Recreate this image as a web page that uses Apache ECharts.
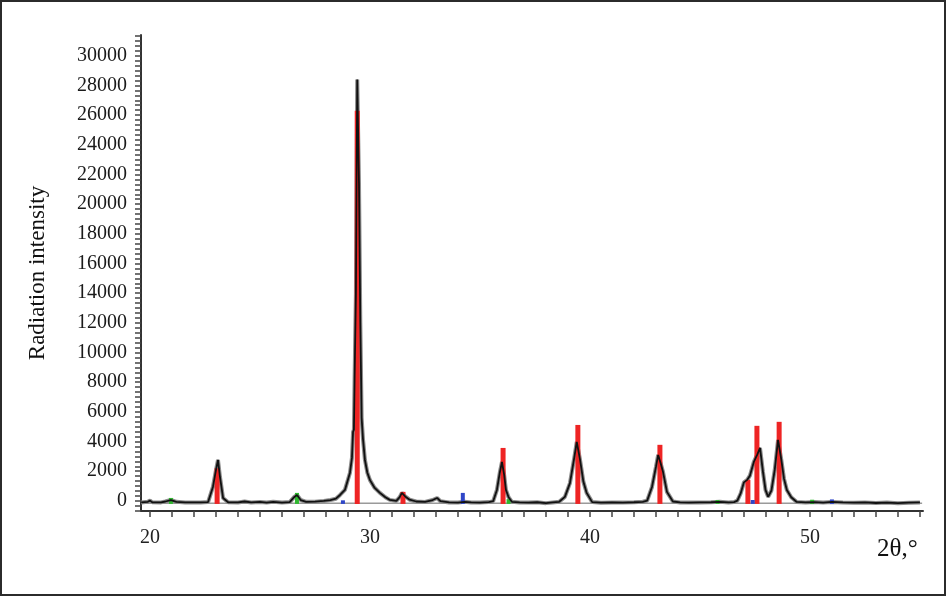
<!DOCTYPE html>
<html>
<head>
<meta charset="utf-8">
<script src="https://cdn.jsdelivr.net/npm/echarts@6/dist/echarts.min.js"></script>
<style>
  html, body { margin: 0; padding: 0; background: #fff; }
  #chart { position: absolute; left: 0; top: 0; width: 946px; height: 596px; }
  #frame { position: absolute; left: 0; top: 0; width: 946px; height: 596px; box-sizing: border-box; border: 2px solid #2b2b2b; pointer-events: none; }
</style>
</head>
<body>
<div id="chart"></div>
<div id="frame"></div>
<script>
const measured = [
  [19.6, -100], [19.9, -60], [20.0, 20], [20.1, -90], [20.5, -100], [20.7, -40], [20.95, 60], [21.2, -60],
  [21.6, -100], [22.3, -100], [22.64, -80], [22.86, 940], [23.0, 2090], [23.09, 2760], [23.18, 1620],
  [23.32, 200], [23.55, -90], [24.0, -100], [24.3, -40], [24.6, -100], [25.0, -70], [25.3, -110],
  [25.6, -60], [26.0, -110], [26.35, -80], [26.55, 250], [26.68, 400], [26.85, 60], [27.1, -60],
  [27.5, -50], [27.9, 0], [28.2, 60], [28.45, 150], [28.64, 400], [28.86, 740], [29.09, 1900],
  [29.18, 2900], [29.23, 4650], [29.27, 4800], [29.3, 8200], [29.36, 14000], [29.42, 28400],
  [29.5, 21400], [29.56, 12000], [29.62, 5600], [29.68, 4200], [29.77, 2760], [29.88, 1900],
  [30.0, 1400], [30.2, 900], [30.45, 540], [30.7, 250], [30.9, 70], [31.2, 0], [31.35, 250],
  [31.45, 540], [31.6, 300], [31.8, 80], [32.1, -40], [32.5, -70], [32.85, 60], [33.05, 200],
  [33.2, -20], [33.6, -100], [34.0, -110], [34.3, -60], [34.6, -100], [35.0, -110], [35.4, -80],
  [35.6, -20], [35.77, 740], [35.9, 1900], [36.0, 2630], [36.1, 1750], [36.18, 740], [36.3, 250],
  [36.45, -60], [36.8, -100], [37.2, -110], [37.6, -90], [38.0, -150], [38.3, -100], [38.6, -60],
  [38.86, 270], [39.09, 1200], [39.27, 2760], [39.4, 3980], [39.55, 2760], [39.7, 1300],
  [39.85, 540], [40.1, -80], [40.5, -120], [41.0, -100], [41.5, -110], [42.0, -90], [42.4, -60],
  [42.6, 20], [42.82, 940], [43.0, 2290], [43.1, 3100], [43.2, 2600], [43.32, 1960], [43.5, 610],
  [43.77, -40], [44.1, -100], [44.5, -110], [45.0, -100], [45.5, -90], [45.9, -60], [46.3, -100],
  [46.55, -80], [46.7, 20], [46.85, 500], [47.0, 1250], [47.15, 1420], [47.27, 1700], [47.45, 2630],
  [47.6, 3100], [47.73, 3570], [47.86, 2000], [47.98, 740], [48.1, 270], [48.25, 700], [48.4, 2090],
  [48.55, 4110], [48.7, 2760], [48.82, 1500], [48.95, 740], [49.15, 250], [49.4, -70], [49.8, -100],
  [50.2, -80], [50.6, -110], [51.0, -70], [51.5, -100], [52.0, -120], [52.5, -100], [53.0, -140],
  [53.5, -110], [54.0, -150], [54.5, -120], [55.0, -100]
];

// background line under the pattern
const background = [[19.6, -160], [55.1, -160]];

// reference sticks (2θ, intensity)
const redSticks = [
  [23.05, 2200], [29.42, 26300], [31.5, 610], [36.05, 3570], [39.45, 5120],
  [43.18, 3780], [47.18, 1420], [47.59, 5060], [48.6, 5330]
];
const greenSticks = [[20.95, 200], [26.68, 540], [36.3, 120], [45.8, 60], [50.1, 80]];
const blueSticks = [[28.77, 40], [34.22, 540], [47.4, 60], [51.0, 100]];

const xLabels = [20, 30, 40, 50];
const yLabels = [0, 2000, 4000, 6000, 8000, 10000, 12000, 14000, 16000, 18000,
  20000, 22000, 24000, 26000, 28000, 30000];

const xTicks = [];
for (let v = 20; v <= 55; v++) xTicks.push(v);
const yTicks = [];
for (let k = -2; k <= 94; k++) yTicks.push(k * 1000 / 3);

const serif = '"Liberation Serif", "DejaVu Serif", serif';

function stickSeries(data, color, width) {
  return {
    type: 'custom',
    data: data,
    z: 2,
    renderItem: (params, api) => {
      const top = api.coord([api.value(0), api.value(1)]);
      const base = api.coord([api.value(0), 0]);
      return {
        type: 'rect',
        shape: { x: top[0] - width / 2, y: top[1], width: width, height: base[1] - top[1] + 3 },
        style: { fill: color }
      };
    }
  };
}

const chart = echarts.init(document.getElementById('chart'));
chart.setOption({
  animation: false,
  grid: { left: 141, right: 23, top: 35, bottom: 85 },
  xAxis: {
    type: 'value', min: 19.59, max: 55.14,
    axisLine: { show: true, onZero: false, lineStyle: { color: '#333', width: 2 } },
    axisTick: { show: true, inside: false, length: 6, customValues: xTicks, lineStyle: { color: '#444', width: 1.5 } },
    axisLabel: { customValues: xLabels, margin: 17, fontFamily: serif, fontSize: 20, color: '#222' },
    splitLine: { show: false }
  },
  yAxis: {
    type: 'value', min: -680, max: 31400,
    name: 'Radiation intensity', nameLocation: 'middle', nameRotate: 90, nameGap: 92,
    nameTextStyle: { fontFamily: serif, fontSize: 23, color: '#111' },
    axisLine: { show: true, lineStyle: { color: '#333', width: 2 } },
    axisTick: { show: true, length: 6, customValues: yTicks, lineStyle: { color: '#444', width: 1.5 } },
    axisLabel: {
      customValues: yLabels, margin: 14, fontFamily: serif, fontSize: 20, color: '#1a1a1a',
      formatter: (v) => String(Math.round(v))
    },
    splitLine: { show: false }
  },
  graphic: [{
    type: 'text', left: 877, top: 537,
    style: { text: '2θ,°', fontFamily: serif, fontSize: 25, fill: '#111' }
  }],
  series: [
    {
      type: 'line', data: background, symbol: 'none', z: 1,
      lineStyle: { color: '#9a9a9a', width: 1.5 }
    },
    {
      type: 'line', data: measured, symbol: 'none', z: 1,
      lineStyle: { color: '#8c8c8c', width: 4 }
    },
    stickSeries(redSticks, '#ee2424', 5),
    stickSeries(greenSticks, '#2fb82f', 4),
    stickSeries(blueSticks, '#2f46c8', 4),
    {
      type: 'line', data: measured, symbol: 'none', z: 3,
      lineStyle: { color: '#111', width: 1.8 }
    }
  ]
});
</script>
</body>
</html>
